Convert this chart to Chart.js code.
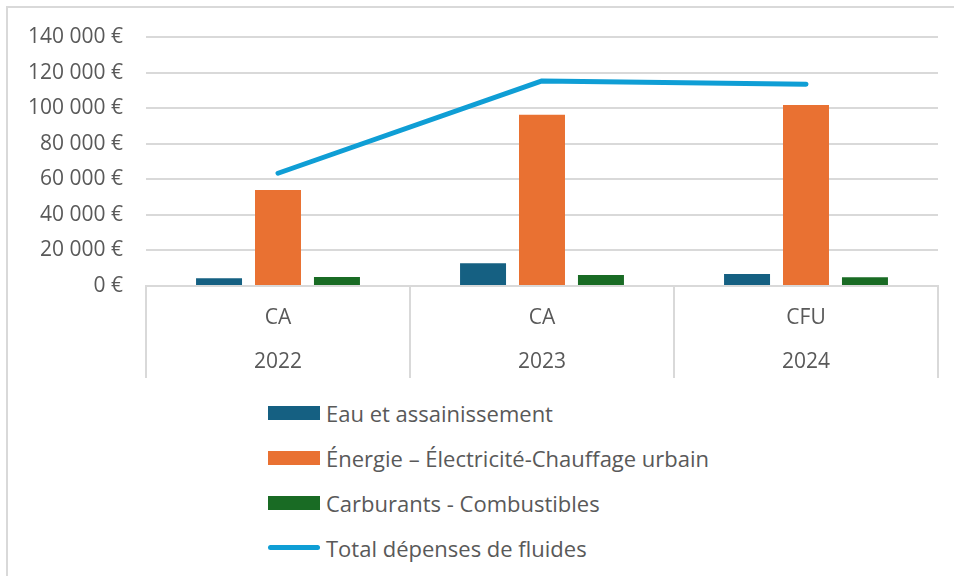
<!DOCTYPE html>
<html>
<head>
<meta charset="utf-8">
<script src="https://cdn.jsdelivr.net/npm/chart.js@4/dist/chart.umd.min.js"></script>
<style>
    body { margin: 0; background: #fff; overflow: hidden; }
    #frame { position: absolute; left: 6px; top: 6px; width: 1100px; height: 800px; border: 2px solid #d9d9d9; }
    #wrap { position: absolute; left: 0; top: 0; width: 954px; height: 382px; }
    #legend { position: absolute; left: 268px; top: 390px; font-family: 'Open Sans', sans-serif; font-size: 22px; color: #595959; }
    .item { height: 45px; display: flex; align-items: center; }
    .mark { width: 52px; height: 14px; margin-right: 6px; }
    .mark.line { height: 5px; border-radius: 3px; }
</style>
</head>
<body>
<div id="frame"></div>
<div id="wrap"><canvas id="chart"></canvas></div>
<div id="legend"></div>
<script>
// Dépenses de fluides par exercice
const categories = [['CA', '2022'], ['CA', '2023'], ['CFU', '2024']];
const eau = [4300, 12800, 6800];
const energie = [54000, 96300, 101800];
const carburants = [5100, 6200, 4900];
const total = [63400, 115300, 113500];

const seriesNames = ['Eau et assainissement', 'Énergie – Électricité-Chauffage urbain', 'Carburants - Combustibles', 'Total dépenses de fluides'];
const colors = ['#156082', '#E97132', '#196B24', '#0F9ED5'];

const fontFamily = "'Open Sans', sans-serif";

function euro(v) {
    return String(v).replace(/\B(?=(\d{3})+(?!\d))/g, ' ') + ' €';
}

const ctx = document.getElementById('chart').getContext('2d');
const chart = new Chart(ctx, {
    type: 'bar',
    data: {
        labels: categories,
        datasets: [{
            type: 'line',
            label: seriesNames[3],
            data: total,
            borderColor: colors[3],
            backgroundColor: colors[3],
            borderWidth: 5,
            borderCapStyle: 'round',
            borderJoinStyle: 'round',
            pointRadius: 0,
            tension: 0,
            order: 0
        }, {
            label: seriesNames[0],
            data: eau,
            backgroundColor: colors[0],
            order: 1
        }, {
            label: seriesNames[1],
            data: energie,
            backgroundColor: colors[1],
            order: 1
        }, {
            label: seriesNames[2],
            data: carburants,
            backgroundColor: colors[2],
            order: 1
        }]
    },
    options: {
        responsive: true,
        maintainAspectRatio: false,
        animation: false,
        datasets: {
            bar: {
                categoryPercentage: 0.67,
                barPercentage: 0.78
            }
        },
        layout: {
            padding: { top: 37, right: 16, left: 0, bottom: 4 }
        },
        plugins: {
            legend: { display: false },
            tooltip: { enabled: false }
        },
        scales: {
            x: {
                afterFit: (scale) => { scale.height = 92; },
                border: { display: true, color: '#d9d9d9', width: 2 },
                grid: {
                    offset: true,
                    drawOnChartArea: false,
                    drawTicks: true,
                    tickLength: 92,
                    color: '#d9d9d9',
                    lineWidth: 2
                },
                ticks: {
                    padding: -82,
                    color: '#595959',
                    font: { family: fontFamily, size: 21, lineHeight: 2.1 }
                }
            },
            y: {
                min: 0,
                max: 140000,
                afterFit: (scale) => { scale.width = 146; },
                border: { display: false },
                grid: {
                    color: '#d9d9d9',
                    lineWidth: 2,
                    drawTicks: false
                },
                ticks: {
                    stepSize: 20000,
                    padding: 23,
                    color: '#595959',
                    font: { family: fontFamily, size: 21 },
                    callback: (v) => euro(v)
                }
            }
        }
    }
});

// legend, vertical list like the original
const legend = document.getElementById('legend');
[0, 1, 2, 3].forEach((i) => {
    const row = document.createElement('div');
    row.className = 'item';
    const mark = document.createElement('span');
    mark.className = i === 3 ? 'mark line' : 'mark';
    mark.style.background = colors[i];
    const txt = document.createElement('span');
    txt.textContent = seriesNames[i];
    row.appendChild(mark);
    row.appendChild(txt);
    legend.appendChild(row);
});
</script>
</body>
</html>
